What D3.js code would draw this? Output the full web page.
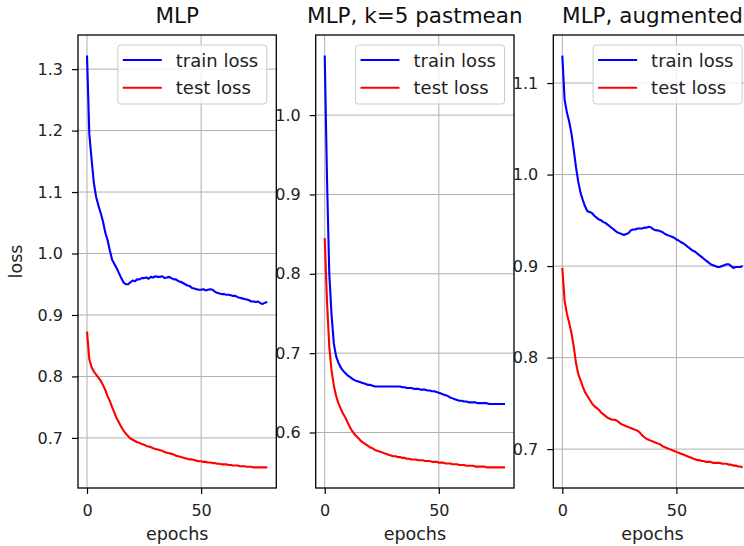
<!DOCTYPE html>
<html>
<head>
<meta charset="utf-8">
<script src="https://cdn.jsdelivr.net/npm/d3@7"></script>
<style>
  body { margin: 0; background: #fff; }
  svg { display: block; font-family: 'DejaVu Sans', sans-serif; }
  .tick text { fill: #222; }
</style>
</head>
<body>
<svg id="chart" width="744" height="546"></svg>
<script>
// one value per epoch, 0..79
const EPOCHS = d3.range(80)
const SERIES_NAMES = ['train loss', 'test loss']
const TITLES = ['MLP', 'MLP, k=5 pastmean', 'MLP, augmented']
const X_TICKS = [0, 50]
const Y_TICKS = [
  [0.7, 0.8, 0.9, 1.0, 1.1, 1.2, 1.3],
  [0.6, 0.7, 0.8, 0.9, 1.0],
  [0.7, 0.8, 0.9, 1.0, 1.1],
]

const mlpTrain = [
  1.322, 1.195, 1.153, 1.115, 1.092, 1.078, 1.066, 1.052, 1.034, 1.022,
  1.005, 0.990, 0.983, 0.976, 0.968, 0.960, 0.953, 0.950, 0.950, 0.953,
  0.956, 0.955, 0.958, 0.958, 0.960, 0.960, 0.961, 0.959, 0.962, 0.961,
  0.963, 0.962, 0.962, 0.963, 0.960, 0.961, 0.962, 0.960, 0.958, 0.958,
  0.955, 0.954, 0.952, 0.950, 0.948, 0.947, 0.944, 0.943, 0.942, 0.941,
  0.941, 0.942, 0.940, 0.941, 0.942, 0.941, 0.938, 0.936, 0.935, 0.934,
  0.934, 0.933, 0.933, 0.932, 0.931, 0.931, 0.929, 0.928, 0.927, 0.926,
  0.925, 0.924, 0.922, 0.922, 0.921, 0.922, 0.919, 0.918, 0.920, 0.921,
]
const mlpTest = [
  0.873, 0.828, 0.815, 0.808, 0.803, 0.798, 0.793, 0.786, 0.778, 0.768,
  0.760, 0.750, 0.741, 0.732, 0.725, 0.718, 0.712, 0.707, 0.703, 0.699,
  0.697, 0.695, 0.693, 0.692, 0.690, 0.689, 0.687, 0.686, 0.685, 0.683,
  0.682, 0.681, 0.680, 0.679, 0.677, 0.676, 0.675, 0.674, 0.673, 0.671,
  0.670, 0.669, 0.668, 0.667, 0.666, 0.665, 0.665, 0.664, 0.663, 0.662,
  0.662, 0.661, 0.661, 0.660, 0.660, 0.659, 0.659, 0.658, 0.658, 0.657,
  0.657, 0.657, 0.656, 0.656, 0.655, 0.655, 0.655, 0.654, 0.654, 0.654,
  0.653, 0.653, 0.653, 0.652, 0.652, 0.652, 0.652, 0.652, 0.652, 0.652,
]
const pastTrain = [
  1.075, 0.920, 0.800, 0.748, 0.712, 0.696, 0.688, 0.682, 0.678, 0.675,
  0.672, 0.670, 0.668, 0.666, 0.665, 0.664, 0.663, 0.662, 0.661, 0.660,
  0.660, 0.659, 0.658, 0.658, 0.658, 0.658, 0.658, 0.658, 0.658, 0.658,
  0.658, 0.658, 0.658, 0.658, 0.657, 0.657, 0.656, 0.656, 0.656, 0.655,
  0.655, 0.655, 0.654, 0.654, 0.654, 0.653, 0.653, 0.652, 0.652, 0.651,
  0.650, 0.649, 0.648, 0.647, 0.646, 0.644, 0.643, 0.642, 0.641, 0.640,
  0.640, 0.639, 0.639, 0.638, 0.638, 0.638, 0.638, 0.637, 0.637, 0.637,
  0.637, 0.637, 0.636, 0.636, 0.636, 0.636, 0.636, 0.636, 0.636, 0.636,
]
const pastTest = [
  0.845, 0.765, 0.708, 0.678, 0.659, 0.646, 0.637, 0.630, 0.624, 0.619,
  0.613, 0.607, 0.602, 0.598, 0.595, 0.592, 0.589, 0.587, 0.585, 0.583,
  0.581, 0.580, 0.578, 0.577, 0.576, 0.575, 0.574, 0.573, 0.572, 0.571,
  0.570, 0.570, 0.569, 0.569, 0.568, 0.568, 0.567, 0.567, 0.566, 0.566,
  0.566, 0.565, 0.565, 0.565, 0.564, 0.564, 0.564, 0.563, 0.563, 0.563,
  0.562, 0.562, 0.562, 0.561, 0.561, 0.561, 0.560, 0.560, 0.560, 0.559,
  0.559, 0.559, 0.558, 0.558, 0.558, 0.558, 0.557, 0.557, 0.557, 0.557,
  0.557, 0.556, 0.556, 0.556, 0.556, 0.556, 0.556, 0.556, 0.556, 0.556,
]
const augTrain = [
  1.130, 1.082, 1.068, 1.058, 1.045, 1.027, 1.008, 0.992, 0.980, 0.972,
  0.965, 0.960, 0.959, 0.958, 0.955, 0.953, 0.951, 0.950, 0.948, 0.947,
  0.945, 0.943, 0.941, 0.939, 0.937, 0.936, 0.935, 0.934, 0.935, 0.936,
  0.939, 0.940, 0.940, 0.941, 0.941, 0.941, 0.942, 0.942, 0.943, 0.942,
  0.940, 0.939, 0.939, 0.938, 0.937, 0.935, 0.934, 0.933, 0.932, 0.931,
  0.929, 0.928, 0.926, 0.925, 0.923, 0.921, 0.919, 0.917, 0.916, 0.914,
  0.912, 0.910, 0.908, 0.906, 0.904, 0.902, 0.901, 0.900, 0.899, 0.899,
  0.900, 0.901, 0.902, 0.902, 0.900, 0.898, 0.899, 0.899, 0.899, 0.900,
]
const augTest = [
  0.898, 0.862, 0.848, 0.838, 0.827, 0.812, 0.794, 0.782, 0.775, 0.768,
  0.762, 0.758, 0.754, 0.750, 0.747, 0.745, 0.743, 0.740, 0.738, 0.736,
  0.734, 0.733, 0.732, 0.732, 0.731, 0.729, 0.727, 0.726, 0.725, 0.724,
  0.723, 0.722, 0.721, 0.720, 0.718, 0.715, 0.713, 0.711, 0.710, 0.709,
  0.708, 0.707, 0.706, 0.705, 0.703, 0.702, 0.701, 0.700, 0.699, 0.698,
  0.697, 0.696, 0.695, 0.694, 0.693, 0.692, 0.691, 0.690, 0.689, 0.688,
  0.688, 0.687, 0.687, 0.686, 0.686, 0.686, 0.685, 0.685, 0.685, 0.685,
  0.684, 0.684, 0.684, 0.683, 0.683, 0.682, 0.682, 0.681, 0.681, 0.680,
]

const PANELS = [
  {title: TITLES[0], series: [mlpTrain, mlpTest], yTicks: Y_TICKS[0], ylabel: 'loss'},
  {title: TITLES[1], series: [pastTrain, pastTest], yTicks: Y_TICKS[1]},
  {title: TITLES[2], series: [augTrain, augTest], yTicks: Y_TICKS[2]},
]
const COLORS = ['#0000ff', '#ff0000']

const svg = d3.select('#chart')
const top0 = 35
const bottom0 = 488
const panelW = 198.3
const panelLefts = [78, 315.7, 553.3]
const height = bottom0 - top0

// matplotlib style: data extent padded by 5% on each side
function padded(ext) {
  const p = (ext[1] - ext[0]) * 0.05
  return [ext[0] - p, ext[1] + p]
}

function drawPanel(panel, i) {
  const g = svg.append('g')
    .attr('transform', `translate(${panelLefts[i]}, ${top0})`)

  const x = d3.scaleLinear()
    .domain(padded(d3.extent(EPOCHS)))
    .range([0, panelW])
  const y = d3.scaleLinear()
    .domain(padded(d3.extent(panel.series.flat())))
    .range([height, 0])

  // background covers neighbour tick labels, like the reference
  g.append('rect')
    .attr('width', panelW)
    .attr('height', height)
    .attr('fill', '#fff')

  // grid
  g.append('g').selectAll('line')
    .data(X_TICKS).enter().append('line')
    .attr('x1', (d) => x(d)).attr('x2', (d) => x(d))
    .attr('y1', 0).attr('y2', height)
    .attr('stroke', '#b0b0b0').attr('stroke-width', 1)
  g.append('g').selectAll('line')
    .data(panel.yTicks).enter().append('line')
    .attr('y1', (d) => y(d)).attr('y2', (d) => y(d))
    .attr('x1', 0).attr('x2', panelW)
    .attr('stroke', '#b0b0b0').attr('stroke-width', 1)

  const line = d3.line()
    .x((d, j) => x(EPOCHS[j]))
    .y((d) => y(d))

  panel.series.forEach((s, k) => {
    g.append('path')
      .datum(s)
      .attr('fill', 'none')
      .attr('stroke', COLORS[k])
      .attr('stroke-width', 2.1)
      .attr('stroke-linejoin', 'round')
      .attr('d', line)
  })

  // spines
  g.append('rect')
    .attr('width', panelW)
    .attr('height', height)
    .attr('fill', 'none')
    .attr('stroke', '#000')
    .attr('stroke-width', 1.3)

  const yAxis = g.append('g')
    .call(d3.axisLeft(y).tickValues(panel.yTicks).tickSize(6).tickPadding(9)
      .tickFormat(d3.format('.1f')))
  const xAxis = g.append('g')
    .attr('transform', `translate(0, ${height})`)
    .call(d3.axisBottom(x).tickValues(X_TICKS).tickSize(6).tickPadding(11))
  ;[xAxis, yAxis].forEach((a) => {
    a.select('.domain').remove()
    a.selectAll('.tick line').attr('stroke', '#000').attr('stroke-width', 1.2)
    a.selectAll('.tick text')
      .attr('font-family', 'DejaVu Sans')
      .attr('font-size', 16)
  })

  g.append('text')
    .attr('x', panelW / 2)
    .attr('y', 505)
    .attr('text-anchor', 'middle')
    .attr('font-size', 17.5)
    .attr('fill', '#222')
    .text('epochs')

  if (panel.ylabel) {
    g.append('text')
      .attr('transform', `translate(${22 - panelLefts[i]}, ${height / 2}) rotate(-90)`)
      .attr('text-anchor', 'middle')
      .attr('font-size', 17.5)
      .attr('fill', '#222')
      .text(panel.ylabel)
  }

  g.append('text')
    .attr('x', panelW / 2)
    .attr('y', 23 - top0)
    .attr('text-anchor', 'middle')
    .attr('font-size', 21.5)
    .attr('fill', '#111')
    .text(panel.title)

  // legend
  const lg = g.append('g')
    .attr('transform', `translate(${panelW - 9.5 - 149}, 10)`)
  lg.append('rect')
    .attr('width', 149)
    .attr('height', 59)
    .attr('rx', 3)
    .attr('fill', '#fff')
    .attr('fill-opacity', 0.8)
    .attr('stroke', '#cccccc')
  const items = lg.selectAll('.item')
    .data(SERIES_NAMES).enter().append('g')
    .attr('transform', (d, k) => `translate(0, ${15 + k * 27.7})`)
  items.append('line')
    .attr('x1', 5).attr('x2', 44)
    .attr('stroke', (d, k) => COLORS[k])
    .attr('stroke-width', 2.1)
  items.append('text')
    .attr('x', 58)
    .attr('y', 6.5)
    .attr('font-size', 18)
    .attr('fill', '#222')
    .text((d) => d)
}

// drawn right to left so each panel's white face hides the next one's tick labels
PANELS.map((p, i) => i).reverse().forEach((i) => drawPanel(PANELS[i], i))
</script>
</body>
</html>
